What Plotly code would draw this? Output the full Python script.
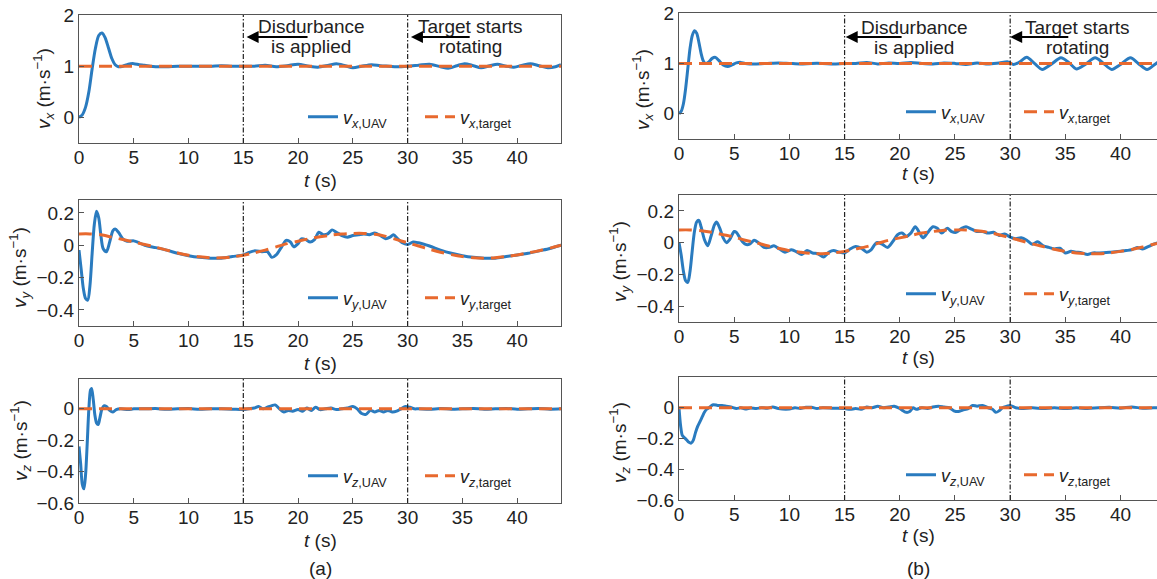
import plotly.graph_objects as go

# ---------------- data ----------------
EVENT_TIMES = [15, 30]
X_TICKS = [0, 5, 10, 15, 20, 25, 30, 35, 40]

# (a) vx
t_ax = [0, 0.3, 0.6, 0.9, 1.2, 1.5, 1.8, 2.1, 2.4, 2.7, 3.0, 3.3, 3.6, 4.0, 4.5, 5.0, 5.5, 6.0, 6.5, 7.0,
        8, 9, 10, 11, 12, 13, 14, 15, 16, 17, 18, 19, 20, 21, 21.8, 22.8, 23.5, 24.3, 25, 25.8, 26.7, 27.5,
        28.3, 29, 30, 31, 32, 33, 33.7, 34.5, 35.2, 36, 36.7, 37.5, 38.2, 39, 39.7, 40.5, 41.2, 42, 42.8, 43.5, 44]
vx_uav_a = [0, 0.05, 0.2, 0.5, 0.95, 1.35, 1.6, 1.65, 1.55, 1.35, 1.15, 1.03, 0.99, 1.0, 1.04, 1.05, 1.03, 1.02, 1.0, 0.99,
            0.99, 1.0, 1.0, 1.0, 1.0, 1.01, 1.0, 1.0, 1.0, 1.02, 0.99, 1.01, 1.04, 1.0, 0.98, 1.02, 1.05, 1.01, 0.97, 1.0, 1.03, 1.01,
            1.0, 0.99, 1.0, 1.02, 1.04, 0.99, 0.96, 1.01, 1.05, 1.01, 0.97, 1.01, 1.04, 1.0, 0.98, 1.02, 1.05, 1.01, 0.97, 0.99, 1.03]
t_tx_a = [0, 44]
vx_target_a = [1.0, 1.0]

# (a) vy
t_ay = [0, 0.2, 0.4, 0.6, 0.8, 1.0, 1.2, 1.4, 1.6, 1.8, 2.0, 2.2, 2.5, 2.8, 3.1, 3.3, 3.6, 4.0, 4.4, 5.0, 5.5, 6,
        7, 8, 9, 10, 11, 12, 13, 14, 15, 15.5, 16, 16.7, 17.2, 17.6, 18.0, 18.5, 18.9, 19.3, 19.6, 20, 20.3, 20.7,
        21.1, 21.5, 21.9, 22.3, 22.7, 23.1, 23.5, 24, 24.5, 25, 25.5, 26, 26.5, 27, 27.5, 28, 28.4, 28.7, 29.1,
        29.5, 30, 30.5, 31, 32, 33, 34, 35, 36, 37, 38, 39, 40, 41, 42, 43, 44]
vy_uav_a = [-0.03, -0.15, -0.27, -0.33, -0.34, -0.25, -0.05, 0.13, 0.21, 0.17, 0.06, -0.02, -0.04, 0.02, 0.09, 0.10, 0.08, 0.04, 0.025, 0.027, 0.015, 0.0,
            -0.015, -0.03, -0.05, -0.065, -0.075, -0.08, -0.08, -0.07, -0.06, -0.045, -0.035, -0.04, -0.04, -0.075, -0.06, -0.01, 0.03, 0.02, -0.01, 0.01, 0.04, 0.035,
            0.02, 0.035, 0.08, 0.065, 0.07, 0.095, 0.08, 0.06, 0.05, 0.06, 0.065, 0.07, 0.065, 0.075, 0.06, 0.04, 0.05, 0.065, 0.04,
            0.015, 0.005, 0.02, 0.015, -0.005, -0.03, -0.05, -0.065, -0.075, -0.08, -0.08, -0.07, -0.06, -0.05, -0.035, -0.02, 0.0]
t_ty_a = [0, 1, 2, 3, 4, 5, 6, 7, 8, 9, 10, 11, 12, 13, 14, 15, 16, 17, 18, 19, 20, 21, 22, 23, 24, 25, 26, 27, 28, 29,
          30, 31, 32, 33, 34, 35, 36, 37, 38, 39, 40, 41, 42, 43, 44]
vy_target_a = [0.07, 0.07, 0.065, 0.05, 0.035, 0.02, 0.005, -0.012, -0.03, -0.048, -0.062, -0.072, -0.078, -0.078, -0.072,
               -0.062, -0.047, -0.03, -0.01, 0.01, 0.025, 0.04, 0.052, 0.062, 0.07, 0.073, 0.073, 0.068, 0.055, 0.035,
               0.015, -0.005, -0.025, -0.043, -0.058, -0.07, -0.078, -0.08, -0.077, -0.07, -0.06, -0.048, -0.034, -0.018, 0.0]

# (a) vz
t_az = [0, 0.15, 0.3, 0.45, 0.6, 0.75, 0.9, 1.05, 1.15, 1.3, 1.45, 1.6, 1.75, 1.9, 2.1, 2.3, 2.5, 2.8, 3.1, 3.4, 3.8,
        4.5, 5, 6, 7, 8, 9, 10, 11, 12, 13, 14, 15, 15.5, 16, 16.4, 16.8, 17.2, 17.6, 17.9, 18.3, 18.7, 19.1, 19.5,
        20, 20.4, 20.8, 21.2, 21.6, 22.0, 22.5, 23, 23.5, 24, 24.5, 25, 25.4, 25.8, 26.2, 26.6, 27.0, 27.4, 27.8,
        28.2, 28.6, 29.0, 29.4, 29.8, 30.2, 30.6, 31, 32, 33, 34, 35, 36, 37, 38, 39, 40, 41, 42, 43, 44]
vz_uav_a = [-0.24, -0.35, -0.48, -0.51, -0.42, -0.22, 0.0, 0.12, 0.13, 0.06, -0.04, -0.09, -0.1, -0.06, 0.0, 0.02, 0.015, -0.01, -0.02, -0.005, 0.0,
            -0.005, 0.0, 0.0, 0.002, -0.003, 0.0, 0.002, -0.003, 0.0, 0.0, -0.002, -0.005, 0.0, 0.005, 0.015, 0.0, 0.01, 0.02, 0.025, 0.0, -0.02, -0.01, -0.015,
            -0.005, -0.015, 0.005, -0.01, 0.01, -0.005, 0.0, 0.005, -0.005, 0.0, 0.005, 0.015, 0.0, -0.03, -0.035, -0.01, -0.02, -0.01, -0.02,
            -0.01, -0.02, -0.015, 0.0, 0.015, 0.01, 0.0, 0.0, -0.003, 0.002, -0.002, 0.0, 0.002, -0.002, 0.0, 0.002, -0.002, 0.0, 0.002, -0.002, 0.0]
t_tz_a = [0, 44]
vz_target_a = [0.0, 0.0]

# (b) vx
t_bx = [0, 0.2, 0.4, 0.6, 0.8, 1.0, 1.2, 1.4, 1.6, 1.8, 2.0, 2.2, 2.4, 2.7, 3.0, 3.3, 3.6, 4.0, 4.4, 4.8, 5.2, 5.6, 6.0,
        7, 8, 9, 10, 11, 12, 13, 14, 15, 16, 17, 18, 19, 20, 21, 22, 23, 24, 25, 26, 27, 28, 29, 29.8, 30.3, 30.8,
        31.5, 32.2, 32.9, 33.7, 34.6, 35.3, 36.0, 36.8, 37.7, 38.4, 39.2, 40.0, 40.9, 41.6, 42.4, 43.1, 43.6]
vx_uav_b = [0, 0.05, 0.2, 0.5, 0.9, 1.3, 1.55, 1.65, 1.6, 1.42, 1.2, 1.05, 1.0, 1.03, 1.1, 1.12, 1.06, 0.97, 0.94, 0.97, 1.01, 1.02, 1.0,
            0.99, 1.0, 1.01, 1.0, 0.99, 1.0, 1.0, 0.99, 1.0, 1.0, 1.02, 0.99, 1.01, 1.0, 1.02, 1.0, 0.99, 1.01, 1.0, 0.98, 1.01, 0.99, 1.01, 1.03, 0.98, 1.02,
            1.12, 1.0, 0.88, 0.98, 1.11, 1.02, 0.89, 0.98, 1.11, 1.01, 0.88, 0.98, 1.11, 1.0, 0.88, 0.98, 1.06]
t_tx_b = [0, 44]
vx_target_b = [1.0, 1.0]

# (b) vy
t_by = [0, 0.2, 0.4, 0.6, 0.8, 1.0, 1.2, 1.4, 1.6, 1.8, 2.0, 2.3, 2.6, 2.9, 3.2, 3.4, 3.7, 4.0, 4.3, 4.6, 5.0, 5.2, 5.6,
        6.0, 6.4, 6.8, 7.2, 7.7, 8.2, 8.6, 9.1, 9.6, 10.2, 10.7, 11.1, 11.6, 12.1, 12.6, 13.1, 13.6, 14.0, 14.5, 15.0,
        15.5, 16.0, 16.5, 17.0, 17.4, 17.9, 18.4, 18.9, 19.4, 19.8, 20.2, 20.6, 21.0, 21.4, 21.8, 22.1, 22.5, 23.0,
        23.4, 23.8, 24.3, 24.7, 25.1, 25.6, 26.0, 26.5, 27.0, 27.5, 28.0, 28.5, 29.0, 29.5, 30.0, 30.5, 31.0, 31.5,
        32.0, 32.5, 33.0, 33.5, 34.0, 34.5, 35.0, 35.5, 36.0, 36.5, 37.0, 37.5, 38.0, 39.0, 40.0, 40.5, 41.0, 41.5,
        42.0, 42.5, 43.0, 43.6]
vy_uav_b = [0.0, -0.08, -0.18, -0.24, -0.25, -0.18, -0.05, 0.07, 0.13, 0.14, 0.1, 0.02, -0.02, 0.04, 0.11, 0.13, 0.09, 0.03, 0.0, 0.02, 0.07, 0.065, 0.02,
            -0.01, -0.01, 0.015, 0.0, -0.03, -0.03, -0.02, -0.04, -0.06, -0.045, -0.06, -0.075, -0.05, -0.065, -0.07, -0.09, -0.06, -0.05, -0.06, -0.065,
            -0.04, -0.025, -0.035, -0.06, -0.045, 0.0, -0.01, -0.03, 0.01, 0.05, 0.06, 0.04, 0.06, 0.1, 0.06, 0.03, 0.06, 0.1,
            0.09, 0.06, 0.09, 0.07, 0.065, 0.09, 0.1, 0.085, 0.07, 0.07, 0.06, 0.065, 0.045, 0.055, 0.035, 0.025, 0.03, 0.015,
            -0.01, 0.005, -0.02, -0.03, -0.04, -0.035, -0.065, -0.055, -0.06, -0.065, -0.075, -0.065, -0.065, -0.06, -0.055, -0.05, -0.045, -0.03,
            -0.04, -0.025, -0.01, 0.005]
t_ty_b = [0, 1, 2, 3, 4, 5, 6, 7, 8, 9, 10, 11, 12, 13, 14, 15, 16, 17, 18, 19, 20, 21, 22, 23, 24, 25, 26, 27, 28, 29,
          30, 31, 32, 33, 34, 35, 36, 37, 38, 39, 40, 41, 42, 43, 43.6]
vy_target_b = [0.08, 0.08, 0.075, 0.065, 0.05, 0.035, 0.015, 0.0, -0.02, -0.035, -0.05, -0.06, -0.068, -0.07, -0.065,
               -0.055, -0.04, -0.025, -0.005, 0.015, 0.03, 0.045, 0.06, 0.07, 0.078, 0.08, 0.08, 0.075, 0.065, 0.05,
               0.03, 0.012, -0.008, -0.025, -0.042, -0.055, -0.065, -0.07, -0.07, -0.065, -0.055, -0.043, -0.028, -0.01, 0.0]

# (b) vz
t_bz = [0, 0.15, 0.3, 0.5, 0.7, 0.9, 1.1, 1.3, 1.5, 1.7, 1.9, 2.1, 2.3, 2.5, 2.8, 3.1, 3.5, 3.9, 4.3, 4.7, 5.2, 5.6,
        6.0, 6.5, 7, 7.5, 8, 8.5, 9, 10, 10.5, 11, 11.5, 12, 12.5, 13, 14, 15, 15.5, 16, 16.5, 17, 17.5, 18, 18.5,
        19, 19.5, 20, 20.3, 20.6, 20.9, 21.2, 21.5, 22, 22.5, 23, 23.5, 24, 24.5, 24.9, 25.3, 25.7, 26.2, 26.6, 27,
        27.5, 28, 28.4, 28.7, 29.0, 29.3, 29.7, 30, 30.5, 31, 32, 33, 34, 35, 36, 37, 38, 39, 40, 41, 42, 43, 43.6]
vz_uav_b = [0.0, -0.12, -0.18, -0.195, -0.21, -0.225, -0.23, -0.21, -0.16, -0.12, -0.09, -0.06, -0.03, -0.01, 0.005, 0.02, 0.015, 0.015, 0.01, 0.005, -0.005, 0.0,
            -0.008, -0.002, -0.005, 0.0, -0.003, 0.005, -0.005, -0.008, 0.0, -0.005, 0.003, 0.003, -0.005, 0.0, -0.003, -0.005, -0.01, -0.005, -0.01, 0.005, 0.0, 0.01, 0.0,
            0.005, 0.01, -0.005, -0.02, -0.03, -0.025, 0.0, -0.01, 0.0, -0.005, 0.005, 0.01, 0.005, 0.0, -0.02, -0.025, -0.015, -0.005, 0.015, 0.01,
            0.015, 0.0, -0.01, -0.03, -0.02, 0.0, 0.01, 0.015, 0.0, -0.005, 0.0, -0.005, 0.0, -0.005, 0.0, -0.005, 0.0, 0.003, -0.003, 0.005, -0.003, 0.0, 0.0]
t_tz_b = [0, 44]
vz_target_b = [0.0, 0.0]

# ---------------- style / layout ----------------
BLUE = "#2a7bbf"
ORANGE = "#e8692e"
FONT = "Liberation Sans, Arial, sans-serif"
W, H = 1157, 579

def px_x(p):
    return p / W

def px_y(p):
    return 1 - p / H

# panel boxes in pixels: (left, right, top, bottom)
panels = [
    dict(box=(79, 561, 15, 143), yr=[-0.5, 2.0], yt=[0, 1, 2], xr=[0, 44], comp="x",
         t=t_ax, u=vx_uav_a, tt=t_tx_a, tv=vx_target_a, leg_y=117, leg_x=303, ew=72, ytx=44, yty=88),
    dict(box=(79, 561, 200, 326), yr=[-0.5, 0.28], yt=[-0.4, -0.2, 0, 0.2], xr=[0, 44], comp="y",
         t=t_ay, u=vy_uav_a, tt=t_ty_a, tv=vy_target_a, leg_y=298, leg_x=303, ew=72, ytx=20, yty=268),
    dict(box=(79, 561, 379, 503), yr=[-0.6, 0.19], yt=[-0.6, -0.4, -0.2, 0], xr=[0, 44], comp="z",
         t=t_az, u=vz_uav_a, tt=t_tz_a, tv=vz_target_a, leg_y=476, leg_x=303, ew=72, ytx=20, yty=441),
    dict(box=(679, 1157, 13, 139), yr=[-0.5, 2.0], yt=[0, 1, 2], xr=[0, 43.3], comp="x",
         t=t_bx, u=vx_uav_b, tt=t_tx_b, tv=vx_target_b, leg_y=112, leg_x=901, ew=73, ytx=642, yty=90),
    dict(box=(679, 1157, 195, 322), yr=[-0.5, 0.3], yt=[-0.4, -0.2, 0, 0.2], xr=[0, 43.3], comp="y",
         t=t_by, u=vy_uav_b, tt=t_ty_b, tv=vy_target_b, leg_y=294, leg_x=901, ew=73, ytx=619, yty=262),
    dict(box=(679, 1157, 377, 500), yr=[-0.6, 0.2], yt=[-0.6, -0.4, -0.2, 0], xr=[0, 43.3], comp="z",
         t=t_bz, u=vz_uav_b, tt=t_tz_b, tv=vz_target_b, leg_y=475, leg_x=901, ew=73, ytx=619, yty=443),
]

fig = go.Figure()
layout = dict(width=W, height=H, margin=dict(l=0, r=0, t=0, b=0, autoexpand=False), paper_bgcolor="white",
              plot_bgcolor="white", font=dict(family=FONT, size=19, color="#222"))
annotations = []
shapes = []


def ann(**kw):
    base = dict(xanchor="center", yanchor="middle", showarrow=False, font=dict(size=19, color="#222"))
    base.update(kw)
    return base


for i, p in enumerate(panels):
    n = "" if i == 0 else str(i + 1)
    xa, ya = "x" + n, "y" + n
    lg = "legend" + n
    l, r, tpx, bpx = p["box"]
    right_side = i >= 3
    layout["xaxis" + n] = dict(domain=[px_x(l), px_x(r)], anchor=ya, range=p["xr"], tickvals=X_TICKS,
                               showline=True, linecolor="#555", linewidth=1.4, mirror=True, automargin=False,
                               ticks="inside", ticklen=5, tickcolor="#555", showgrid=False, zeroline=False,
                               ticklabelstandoff=-3,
                               tickfont=dict(size=19, color="#222"))
    layout["yaxis" + n] = dict(domain=[px_y(bpx), px_y(tpx)], anchor=xa, range=p["yr"], tickvals=p["yt"],
                               showline=True, linecolor="#555", linewidth=1.4, mirror=(not right_side),
                               automargin=False,
                               ticks="inside", ticklen=5, tickcolor="#555", showgrid=False, zeroline=False,
                               tickfont=dict(size=19, color="#222"))
    c = p["comp"]
    fig.add_trace(go.Scatter(x=p["t"], y=p["u"], xaxis=xa, yaxis=ya, mode="lines", legend=lg,
                             line=dict(color=BLUE, width=3, shape="spline", smoothing=0.8),
                             name=f"<i>v</i><sub><i>{c}</i>,UAV</sub>"))
    fig.add_trace(go.Scatter(x=p["tt"], y=p["tv"], xaxis=xa, yaxis=ya, mode="lines", legend=lg,
                             line=dict(color=ORANGE, width=3, dash="13px,7px", shape="spline", smoothing=0.8),
                             name=f"<i>v</i><sub><i>{c}</i>,target</sub>"))
    layout[lg] = dict(orientation="h", x=px_x(p["leg_x"]), y=px_y(p["leg_y"]), xanchor="left", yanchor="middle",
                      bgcolor="rgba(0,0,0,0)", font=dict(size=18, color="#222"),
                      entrywidth=p["ew"], entrywidthmode="pixels", itemwidth=30)
    for et in EVENT_TIMES:
        shapes.append(dict(type="line", xref=xa, yref=ya + " domain", x0=et, x1=et, y0=0, y1=1,
                           line=dict(color="#222", width=1.2, dash="5px,2px,1.5px,2px")))
    # y title
    annotations.append(ann(xref="paper", yref="paper", x=px_x(p["ytx"]), y=px_y(p["yty"]), textangle=-90,
                           text=f"<i>v</i><sub><i>{c}</i></sub> (m·s<sup>−1</sup>)"))
    # x title
    xt_y = bpx + 37 if not right_side else bpx + 35
    annotations.append(ann(xref="paper", yref="paper", x=px_x((l + r) / 2 if not right_side else 918),
                           y=px_y(xt_y), text="<i>t</i> (s)"))

# event annotations on top panels
for n, (disd_x, targ_x, l1, l2, ay_, ax1, ax2) in {
    "": (21.2, 35.7, 1.766, 1.375, 1.57, (15.3, 21.0), (30.3, 35.8)),
    "4": (21.3, 36.1, 1.722, 1.306, 1.524, (15.1, 20.3), (30.0, 35.4)),
}.items():
    xa, ya = "x" + n, "y" + n
    annotations += [
        ann(xref=xa, yref=ya, x=disd_x, y=l1, text="Disdurbance"),
        ann(xref=xa, yref=ya, x=disd_x, y=l2, text="is applied"),
        ann(xref=xa, yref=ya, x=targ_x, y=l1, text="Target starts"),
        ann(xref=xa, yref=ya, x=targ_x, y=l2, text="rotating"),
        dict(xref=xa, yref=ya, axref=xa, ayref=ya, x=ax1[0], y=ay_, ax=ax1[1], ay=ay_, text="",
             showarrow=True, arrowhead=2, arrowsize=1.2, arrowwidth=2, arrowcolor="black", standoff=0),
        dict(xref=xa, yref=ya, axref=xa, ayref=ya, x=ax2[0], y=ay_, ax=ax2[1], ay=ay_, text="",
             showarrow=True, arrowhead=2, arrowsize=1.2, arrowwidth=2, arrowcolor="black", standoff=0),
    ]

annotations.append(ann(xref="paper", yref="paper", x=px_x(320), y=px_y(568), text="(a)"))
annotations.append(ann(xref="paper", yref="paper", x=px_x(918), y=px_y(568), text="(b)"))

layout["annotations"] = annotations
layout["shapes"] = shapes
layout["showlegend"] = True
fig.update_layout(**layout)
fig.write_html("out.html")
